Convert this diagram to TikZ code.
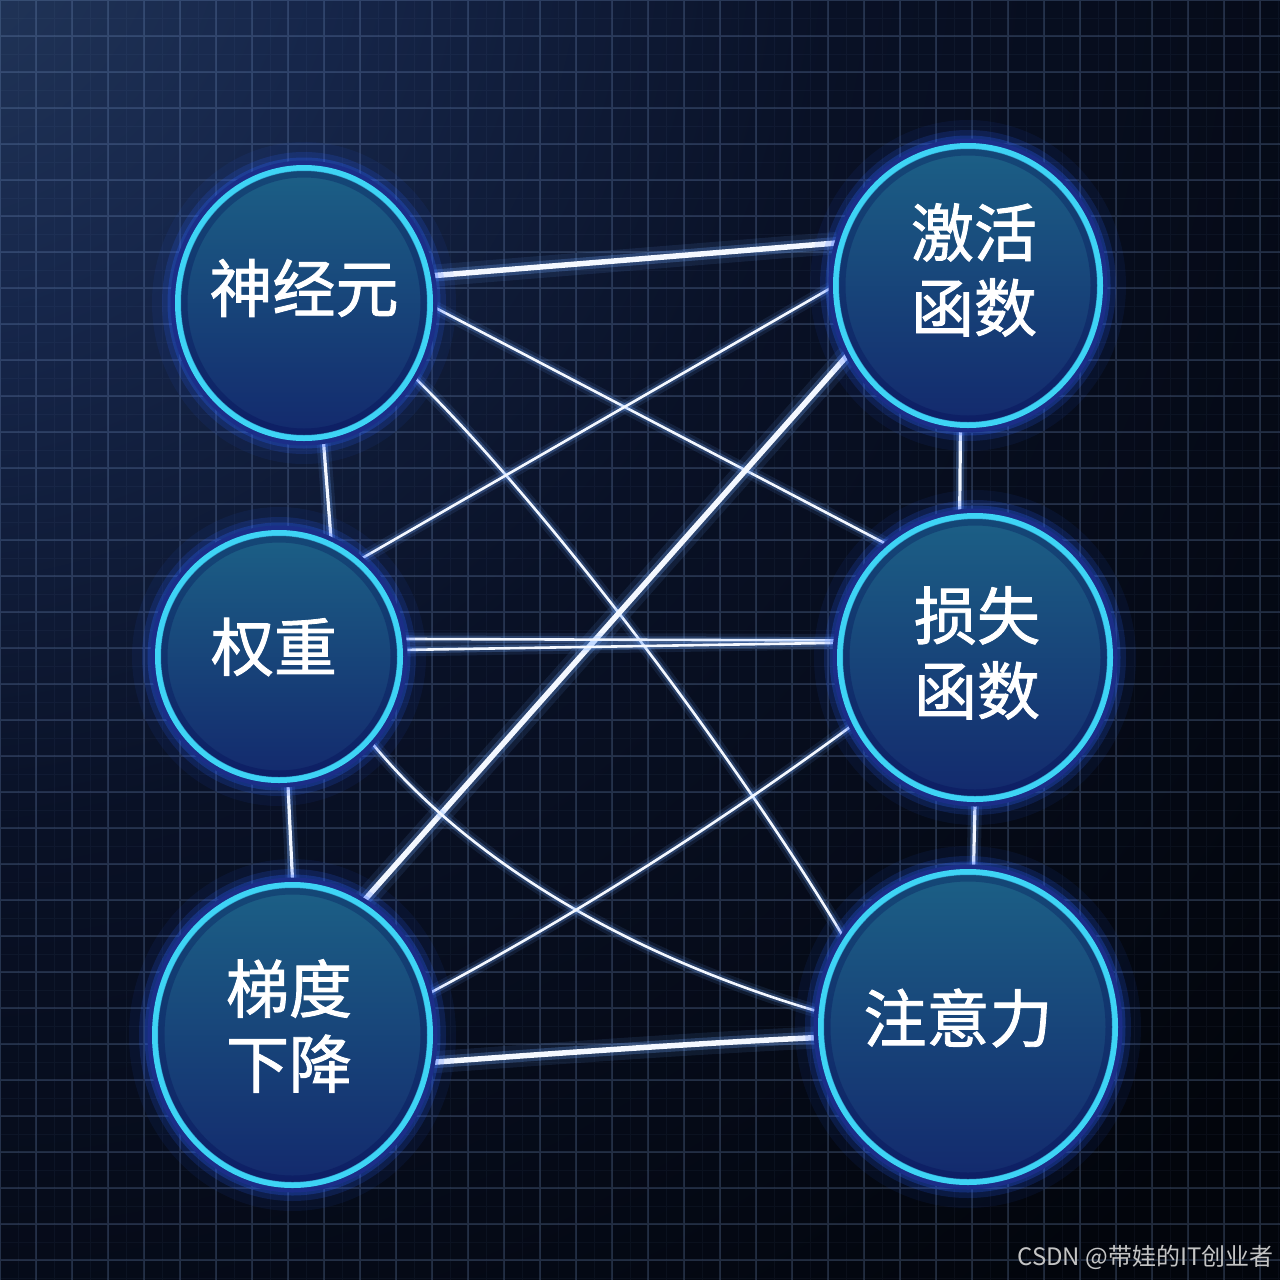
\documentclass[tikz,border=0pt]{standalone}
\usepackage{fontspec}
\newfontfamily\cjk{Noto Sans CJK SC}
\newfontfamily\cjkm{Noto Sans CJK SC}[FakeBold=1.4]
\usetikzlibrary{shapes.geometric}
\definecolor{bgdark}{HTML}{02050C}
\definecolor{bgnavyA}{HTML}{24395C}
\definecolor{bgnavyB}{HTML}{16264A}
\definecolor{bgnavyC}{HTML}{091126}
\definecolor{gridc}{HTML}{7A98C8}
\definecolor{ringcyan}{HTML}{3ED4F5}
\definecolor{rimdark}{HTML}{1B2E88}
\definecolor{haloblue}{HTML}{2A62FF}
\definecolor{orbtop}{HTML}{1C6086}
\definecolor{orbmid}{HTML}{17487B}
\definecolor{orbbot}{HTML}{13296D}
\definecolor{glowc}{HTML}{6FA8FF}
\definecolor{corew}{HTML}{F4F8FF}
\definecolor{wmgray}{HTML}{C4C4C4}
\pgfdeclareradialshading{bgglow}{\pgfpoint{0bp}{0bp}}{color(0bp)=(bgnavyA); color(6bp)=(bgnavyB); color(13bp)=(bgnavyC); color(25bp)=(bgdark); color(50bp)=(bgdark)}
\pgfdeclarelayer{bg}
\pgfdeclarelayer{lines}
\pgfsetlayers{bg,lines,main}
\tikzset{
  orb/.style={ellipse, inner sep=0pt, outer sep=5pt, draw=ringcyan, line width=6pt,
    top color=orbtop, middle color=orbmid, bottom color=orbbot},
  lbl/.style={text=white, font=\cjkm\fontsize{63}{75}\selectfont, align=center, inner sep=0pt},
  thickline/.style={draw=corew, line width=5.5pt, line cap=round,
    preaction={draw=glowc, line width=22pt, opacity=0.10},
    preaction={draw=glowc, line width=12pt, opacity=0.25}},
  medline/.style={draw=corew, line width=3.2pt, line cap=round,
    preaction={draw=glowc, line width=14pt, opacity=0.10},
    preaction={draw=glowc, line width=8pt, opacity=0.25}},
  thinline/.style={draw=corew, line width=2.6pt, line cap=round,
    preaction={draw=glowc, line width=13pt, opacity=0.10},
    preaction={draw=glowc, line width=7pt, opacity=0.24}},
}
\newcommand\orbhalo[3]{%
  \draw[haloblue, line width=30pt, opacity=0.07] #1 ellipse [x radius=#2pt+11pt, y radius=#3pt+11pt];
  \draw[haloblue, line width=16pt, opacity=0.16] #1 ellipse [x radius=#2pt+8pt, y radius=#3pt+8pt];
  \draw[haloblue, line width=9pt, opacity=0.25] #1 ellipse [x radius=#2pt+6pt, y radius=#3pt+6pt];
  \draw[rimdark, line width=5pt] #1 ellipse [x radius=#2pt+5pt, y radius=#3pt+5pt];
}
\newcommand\orbinner[3]{%
  \draw[black!70!blue, line width=7pt, opacity=0.25] #1 ellipse [x radius=#2pt-6pt, y radius=#3pt-6pt];
}
\begin{document}
\begin{tikzpicture}[x=1pt, y=-1pt]
\useasboundingbox (0,0) rectangle (1280,1280);
\begin{pgfonlayer}{bg}
  \fill[bgdark] (0,0) rectangle (1280,1280);
  \begin{scope}
    \clip (0,0) rectangle (1280,1280);
    \shade[shading=bgglow] (-100,-100) circle (1800pt);
    \draw[gridc, line width=0.7pt, opacity=0.06, step=18pt] (0,0) grid (1280,1280);
    \draw[gridc, line width=1.1pt, opacity=0.22, step=36pt] (0,0) grid (1280,1280);
  \end{scope}
\end{pgfonlayer}

% halos
\orbhalo{(304,303)}{126}{135}
\orbhalo{(968,285.5)}{132}{139.5}
\orbhalo{(279,656.5)}{121}{123.5}
\orbhalo{(975,657.5)}{135}{141.5}
\orbhalo{(292.5,1035)}{137.5}{150}
\orbhalo{(968,1027)}{147}{155}

% orbs
\node[orb, minimum width=252pt, minimum height=270pt] (A) at (304,303) {};
\node[orb, minimum width=264pt, minimum height=279pt] (B) at (968,285.5) {};
\node[orb, minimum width=242pt, minimum height=247pt] (C) at (279,656.5) {};
\node[orb, minimum width=270pt, minimum height=283pt] (D) at (975,657.5) {};
\node[orb, minimum width=275pt, minimum height=300pt] (E) at (292.5,1035) {};
\node[orb, minimum width=294pt, minimum height=310pt] (F) at (968,1027) {};

\orbinner{(304,303)}{126}{135}
\orbinner{(968,285.5)}{132}{139.5}
\orbinner{(279,656.5)}{121}{123.5}
\orbinner{(975,657.5)}{135}{141.5}
\orbinner{(292.5,1035)}{137.5}{150}
\orbinner{(968,1027)}{147}{155}

% labels
\node[lbl] (tA) at (304,288) {神经元};
\node[lbl] (tB) at (974,270) {激活\\函数};
\node[lbl] (tC) at (274,647) {权重};
\node[lbl] (tD) at (977,653) {损失\\函数};
\node[lbl] (tE) at (289,1026) {梯度\\下降};
\node[lbl] (tF) at (958,1018) {注意力};

% connectors
\begin{pgfonlayer}{lines}
  \draw[thickline] (A.12.7) -- (B.162.3);
  \draw[thinline] (A.-2.6) -- (D.128.8);
  \draw[thinline] (A.-34.8) .. controls (560,520) and (750,780) .. (F.144.9);
  \draw[medline] (A.-82.9) -- (C.66.1);
  \draw[thinline] (B.181.2) -- (C.50);
  \draw[thickline] (B.210.3) -- (E.62.8);
  \draw[medline] (B.-93) -- (D.96);
  \draw[thinline] (C.8.9) -- (D.173);
  \draw[thinline] (C.3.6) -- (D.174.7);
  \draw[thinline] (C.-43.1) .. controls (460,850) and (610,950) .. (F.174.5);
  \draw[medline] (C.-86.2) -- (E.90);
  \draw[thinline] (D.209.6) .. controls (711,829) and (572,917) .. (E.17);
  \draw[medline] (D.-90) -- (F.88);
  \draw[thickline] (E.-11.7) .. controls (560,1053) and (700,1043) .. (F.184.4);
\end{pgfonlayer}

% watermark
\node[anchor=east, text=wmgray, font=\cjk\fontsize{24}{28}\selectfont, inner sep=0pt] (wm) at (1274,1257) {CSDN @带娃的IT创业者};
\end{tikzpicture}
\end{document}
